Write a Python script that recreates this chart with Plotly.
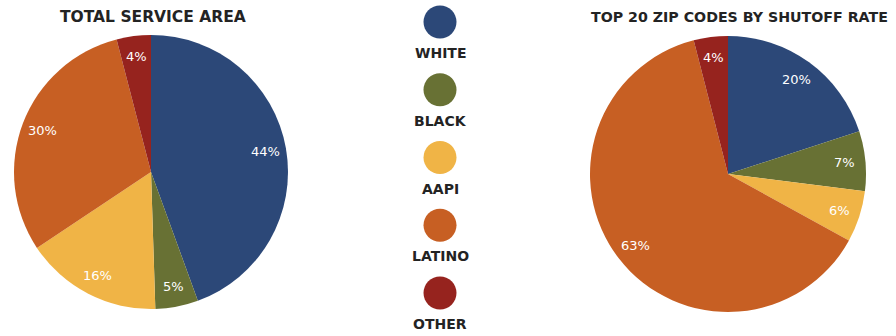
import math
import plotly.graph_objects as go

# Racial/ethnic composition: whole service area vs. top 20 ZIP codes by shutoff rate
groups = ["WHITE", "BLACK", "AAPI", "LATINO", "OTHER"]
service_area_pct = [44, 5, 16, 30, 4]
top20_zip_pct = [20, 7, 6, 63, 4]
group_colors = ["#2C4878", "#687134", "#F0B446", "#C75F23", "#96231E"]

title_left = "TOTAL SERVICE AREA"
title_right = "TOP 20 ZIP CODES BY SHUTOFF RATE"

W, H = 896, 336
FONT = "DejaVu Sans"
TEXT_DARK = "#232323"

# pie geometry in pixels: centre x, centre y (from top), radius
left_geo = (151, 172, 137)
right_geo = (728, 174, 138)


def pie_domain(cx, cy, r):
    return dict(x=[(cx - r) / W, (cx + r) / W], y=[(H - cy - r) / H, (H - cy + r) / H])


def slice_labels(values, cx, cy, r, frac=0.85):
    """Percentage labels placed along each slice's mid-angle (clockwise from 12 o'clock)."""
    total = sum(values)
    out = []
    start = 0.0
    for v in values:
        mid = (start + v / 2) / total * 2 * math.pi
        start += v
        px = cx + frac * r * math.sin(mid)
        py = cy - frac * r * math.cos(mid)
        out.append(dict(text=f"{v}%", x=px / W, y=1 - py / H, xref="paper", yref="paper",
                        xanchor="center", yanchor="middle", showarrow=False,
                        font=dict(family=FONT, size=13, color="white")))
    return out


fig = go.Figure()

pie_common = dict(
    labels=groups,
    marker=dict(colors=group_colors, line=dict(width=0)),
    sort=False,
    direction="clockwise",
    rotation=0,
    textinfo="none",
    showlegend=False,
    hoverinfo="label+value",
)

fig.add_trace(go.Pie(values=service_area_pct, domain=pie_domain(*left_geo), **pie_common))
fig.add_trace(go.Pie(values=top20_zip_pct, domain=pie_domain(*right_geo), **pie_common))

# Central key: a colored dot per group with its name beneath
fig.add_trace(go.Scatter(
    x=[0] * len(groups),
    y=list(range(len(groups))),
    mode="markers",
    marker=dict(size=33, color=group_colors, line=dict(width=0)),
    showlegend=False,
    hoverinfo="skip",
    cliponaxis=False,
))

key_labels = [
    dict(text=f"<b>{g}</b>", x=0, y=i, xref="x", yref="y", yshift=-31,
         xanchor="center", yanchor="middle", showarrow=False,
         font=dict(family=FONT, size=14, color=TEXT_DARK))
    for i, g in enumerate(groups)
]

titles = [
    dict(text=f"<b>{title_left}</b>", x=153 / W, y=1 - 17 / H, xref="paper", yref="paper",
         xanchor="center", yanchor="middle", showarrow=False,
         font=dict(family=FONT, size=15.5, color=TEXT_DARK)),
    dict(text=f"<b>{title_right}</b>", x=739 / W, y=1 - 17 / H, xref="paper", yref="paper",
         xanchor="center", yanchor="middle", showarrow=False,
         font=dict(family=FONT, size=14.2, color=TEXT_DARK)),
]

fig.update_layout(
    width=W,
    height=H,
    margin=dict(l=0, r=0, t=0, b=0),
    paper_bgcolor="white",
    plot_bgcolor="rgba(0,0,0,0)",
    xaxis=dict(domain=[400 / W, 480 / W], range=[-1, 1], visible=False, fixedrange=True),
    yaxis=dict(domain=[0, 1], range=[4.6347, -0.3247], visible=False, fixedrange=True),
    annotations=titles + key_labels
    + slice_labels(service_area_pct, *left_geo)
    + slice_labels(top20_zip_pct, *right_geo),
)

fig.write_html("out.html")
